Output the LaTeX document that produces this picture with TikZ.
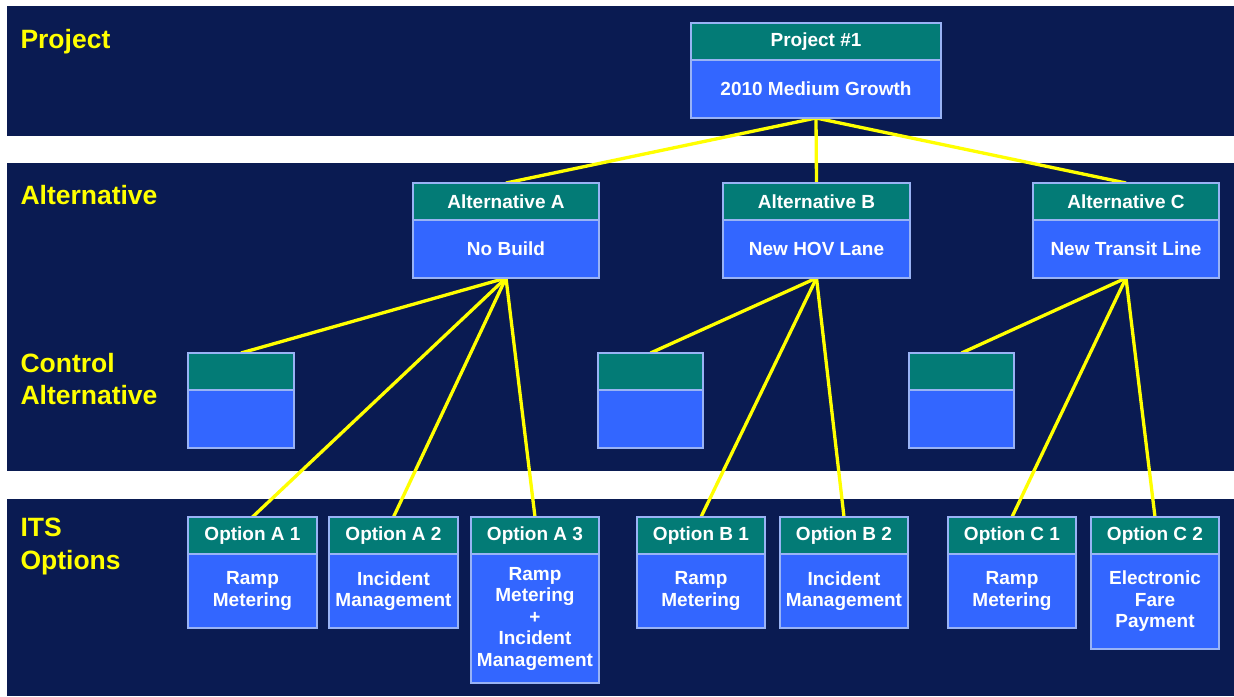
\documentclass[tikz,border=0pt]{standalone}
\usepackage{fontspec}
\setmainfont{Liberation Sans}
\definecolor{navy}{RGB}{10,27,82}
\definecolor{tealh}{RGB}{3,123,118}
\definecolor{bluebody}{RGB}{51,102,255}
\definecolor{edgeblue}{RGB}{153,179,245}
\definecolor{yel}{RGB}{255,255,0}
\pgfdeclarelayer{bg}
\pgfdeclarelayer{lines}
\pgfsetlayers{bg,lines,main}
\tikzset{
  band/.style={fill=navy, draw=none},
  lvl/.style={text=yel, font=\fontsize{26.5}{32.5}\selectfont\bfseries, inner sep=0pt, outer sep=0pt, anchor=north west, align=left},
  hdr/.style={draw=edgeblue, line width=1.3pt, fill=tealh, text=white, font=\fontsize{19}{21.5}\selectfont\bfseries, inner sep=0pt, outer sep=0pt, anchor=north west, align=center},
  bdy/.style={hdr, fill=bluebody},
  link/.style={draw=yel, line width=3.3pt},
}
% #1 name, #2 x, #3 y, #4 width, #5 header height, #6 body height, #7 header, #8 body
\newcommand\twobox[8]{%
  \node[hdr, minimum width=#4pt, minimum height=#5pt] (#1-h) at (#2,#3) {#7};
  \node[bdy, minimum width=#4pt, minimum height=#6pt] (#1) at (#1-h.south west) {#8};
}
\begin{document}
\begin{tikzpicture}[x=1pt,y=-1pt]
\useasboundingbox (0,0) rectangle (1234,696);
\begin{pgfonlayer}{bg}
  \fill[white] (0,0) rectangle (1234,696);
  \path[band] (7,6) rectangle (1234,136);
  \path[band] (7,163) rectangle (1234,471);
  \path[band] (7,499) rectangle (1234,696);
\end{pgfonlayer}

\node[lvl] (lProject) at (20.5,29) {Project};
\node[lvl] (lAlt) at (20.5,185.5) {Alternative};
\node[lvl] (lCtrl) at (20.5,353) {Control\\Alternative};
\node[lvl] (lITS) at (20.5,518) {ITS\\Options};

\twobox{P}{691}{23}{250}{37}{58}{Project \#1}{2010 Medium Growth}

\twobox{aA}{413}{183}{186}{37}{58}{Alternative A}{No Build}
\twobox{aB}{723}{183}{187}{37}{58}{Alternative B}{New HOV Lane}
\twobox{aC}{1033}{183}{186}{37}{58}{Alternative C}{New Transit Line}

\twobox{cA}{188}{353}{106}{37}{58}{}{}
\twobox{cB}{598}{353}{105}{37}{58}{}{}
\twobox{cC}{909}{353}{105}{37}{58}{}{}

\twobox{oA1}{188}{517}{129}{37}{74}{Option A 1}{Ramp\\Metering}
\twobox{oA2}{329}{517}{129}{37}{74}{Option A 2}{Incident\\Management}
\twobox{oA3}{471}{517}{128}{37}{129}{Option A 3}{Ramp\\Metering\\+\\Incident\\Management}
\twobox{oB1}{637}{517}{128}{37}{74}{Option B 1}{Ramp\\Metering}
\twobox{oB2}{780}{517}{128}{37}{74}{Option B 2}{Incident\\Management}
\twobox{oC1}{948}{517}{128}{37}{74}{Option C 1}{Ramp\\Metering}
\twobox{oC2}{1091}{517}{128}{37}{95}{Option C 2}{Electronic\\Fare\\Payment}

\begin{pgfonlayer}{lines}
  \draw[link] (P.south) -- (aA-h.north);
  \draw[link] (P.south) -- (aB-h.north);
  \draw[link] (P.south) -- (aC-h.north);
  \draw[link] (aA.south) -- (cA-h.north);
  \draw[link] (aA.south) -- (oA1-h.north);
  \draw[link] (aA.south) -- (oA2-h.north);
  \draw[link] (aA.south) -- (oA3-h.north);
  \draw[link] (aB.south) -- (cB-h.north);
  \draw[link] (aB.south) -- (oB1-h.north);
  \draw[link] (aB.south) -- (oB2-h.north);
  \draw[link] (aC.south) -- (cC-h.north);
  \draw[link] (aC.south) -- (oC1-h.north);
  \draw[link] (aC.south) -- (oC2-h.north);
\end{pgfonlayer}
\end{tikzpicture}
\end{document}
